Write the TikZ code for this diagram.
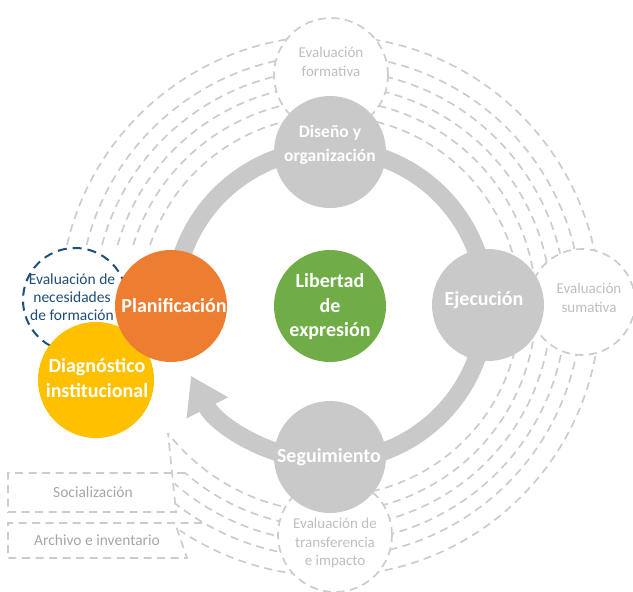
\documentclass[tikz,border=0pt]{standalone}
\usepackage{fontspec}
\setmainfont{Carlito}
\usetikzlibrary{arrows.meta}
\definecolor{ringgray}{HTML}{C9C9C9}
\definecolor{dashgray}{HTML}{CCCCCC}
\definecolor{lighttext}{HTML}{BFBFBF}
\definecolor{boxtext}{HTML}{A6A6A6}
\definecolor{navyc}{HTML}{1F4E79}
\definecolor{orangec}{HTML}{ED7D31}
\definecolor{yellowc}{HTML}{FFC000}
\definecolor{greenc}{HTML}{70AD47}
\begin{document}
\begin{tikzpicture}[x=1pt,y=-1pt,
  dasharc/.style={draw=dashgray,line width=1.7pt,dash pattern=on 8pt off 5.5pt},
  evalcirc/.style={circle,draw=dashgray,fill=white,line width=1.7pt,dash pattern=on 8pt off 5.5pt,minimum size=#1,inner sep=0pt},
  phase/.style={circle,fill=ringgray,minimum size=112pt,inner sep=0pt},
  colcirc/.style={circle,fill=#1,minimum size=112pt,inner sep=0pt},
  whitetxt/.style={text=white,font=\bfseries\fontsize{20}{24.5}\selectfont,align=center,inner sep=0pt},
  smallwhite/.style={text=white,font=\bfseries\fontsize{17.5}{24}\selectfont,align=center,inner sep=0pt},
  graytxt/.style={text=lighttext,font=\fontsize{15}{18.8}\selectfont,align=center,inner sep=0pt},
  navytxt/.style={text=navyc,font=\fontsize{15.5}{18}\selectfont,align=center,inner sep=0pt},
  boxlabel/.style={inner sep=0pt,text=boxtext,font=\fontsize{15.5}{18}\selectfont},
  ringline/.style={draw=ringgray,line width=18pt}
]
\useasboundingbox (0,0) rectangle (633,592);
\coordinate (K) at (330,306);
\coordinate (RC) at (330,305);
% dashed concentric arcs
\foreach \r/\a/\b in {190/198.7/460, 206/197.2/501.9, 221/196.0/491.0, 236/195.0/491.2, 251/194.1/487.9, 270/193.1/483.75}
  \draw[dasharc] (K) ++(\a:\r) arc[start angle=\a, end angle=\b, radius=\r];
% boxes
\coordinate (s1) at (8,473);
\coordinate (s2) at (8,512);
\coordinate (s3) at (176,512);
\coordinate (s4) at (168,433);
\coordinate (s5) at (185,473);
\draw[dasharc] (s5) -- (s1) -- (s2) -- (s3) -- (s4);
\node[boxlabel] (soc) at (93,492.5) {Socializaci\'on};
\coordinate (a1) at (202,523);
\coordinate (a2) at (8,523);
\coordinate (a3) at (8,558);
\coordinate (a4) at (187,558);
\coordinate (a5) at (175,523);
\draw[dasharc] (a1) -- (a2) -- (a3) -- (a4) -- (a5);
\node[boxlabel] (arc) at (97,540.5) {Archivo e inventario};
% evaluation circles
\node[evalcirc=114pt] (form) at (331,75) {};
\node[evalcirc=106pt] (suma) at (582,302) {};
\node[evalcirc=114pt] (tran) at (335,535) {};
\node[graytxt] (formt) at (331,62) {Evaluaci\'on\\formativa};
\node[graytxt] (sumat) at (589,298) {Evaluaci\'on\\sumativa};
\node[graytxt] (trant) at (335,543) {Evaluaci\'on de\\transferencia\\e impacto};
% ring with arrow
\draw[ringline,-{Triangle[width=44pt,length=36pt]}] (RC) ++(185:156) arc[start angle=185, end angle=513, radius=156];
% phase circles
\node[phase] (dis) at (330,152) {};
\node[phase] (eje) at (488,305) {};
\node[phase] (seg) at (330,457) {};
\node[smallwhite] (dist) at (330,145) {Dise\~no y\\organizaci\'on};
\node[whitetxt] (ejet) at (484,300) {Ejecuci\'on};
\node[whitetxt] (segt) at (329,457) {Seguimiento};
% centre
\node[colcirc=greenc] (lib) at (330,306) {};
\node[whitetxt] (libt) at (330,307) {Libertad\\de\\expresi\'on};
% left cluster
\node[circle,draw=navyc,fill=white,line width=2pt,dash pattern=on 9pt off 6pt,minimum size=104pt,inner sep=0pt] (nec) at (75,300) {};
\node[navytxt] (nect) at (72,297) {Evaluaci\'on de\\necesidades\\de formaci\'on};
\node[colcirc=yellowc,minimum size=116pt] (diag) at (96,380) {};
\node[whitetxt] (diagt) at (97,378) {Diagn\'ostico\\institucional};
\node[colcirc=orangec] (plan) at (171,306) {};
\node[whitetxt] (plant) at (174,306) {Planificaci\'on};
\end{tikzpicture}
\end{document}
